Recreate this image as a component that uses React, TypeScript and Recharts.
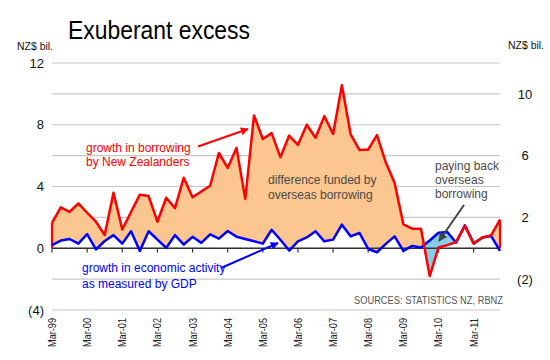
import React from 'react';
import {
  ComposedChart,
  Area,
  Line,
  XAxis,
  YAxis,
  CartesianGrid,
  ReferenceLine,
} from 'recharts';

// quarterly, Mar-99 .. Dec-11, NZ$ bil.
const borrowing = [
  1.65, 2.65, 2.35, 2.9, 2.3, 1.72, 0.86, 3.6, 1.22, 2.35, 3.47, 3.38,
  1.72, 3.27, 2.6, 4.57, 3.3, 3.68, 4.05, 6.17, 5.2, 6.5, 3.2, 8.6,
  7.08, 7.46, 5.9, 7.3, 6.7, 8.0, 7.16, 8.56, 7.4, 10.56, 7.37, 6.37,
  6.4, 7.33, 5.55, 4.24, 1.55, 1.27, 1.27, -1.8, 0.05, 0.2, 0.4, 1.45,
  0.3, 0.7, 0.85, 1.85,
];

const gdpGrowth = [
  0.2, 0.5, 0.6, 0.3, 0.92, -0.08, 0.47, 0.85, 0.3, 1.1, -0.18, 1.1,
  0.56, 0.02, 0.85, 0.24, 0.74, 0.35, 0.9, 0.62, 1.12, 0.75, 0.6, 0.45,
  0.3, 1.2, 0.55, -0.15, 0.45, 0.7, 1.1, 0.45, 0.56, 1.53, 0.77, 0.99,
  -0.05, -0.26, 0.28, 0.77, -0.17, 0.15, 0.05, 0.5, 1.0, 1.05, 0.37, 1.48,
  0.32, 0.69, 0.79, -0.17,
];

const yearLabels = [
  'Mar-99', 'Mar-00', 'Mar-01', 'Mar-02', 'Mar-03', 'Mar-04', 'Mar-05',
  'Mar-06', 'Mar-07', 'Mar-08', 'Mar-09', 'Mar-10', 'Mar-11',
];

const gridValues = [-4, -2, 0, 2, 4, 6, 8, 10, 12];
const leftLabels = [-4, 0, 4, 8, 12];
const rightLabels = [-2, 2, 6, 10];

const FONT = 'Arial, "Liberation Sans", sans-serif';
const ORANGE = '#fbc68f';
const LIGHT_BLUE = '#86cdec';

const fmt = (v: number) => (v < 0 ? `(${-v})` : `${v}`);

const rows = borrowing.map((red, i) => ({ x: i, red, blue: gdpGrowth[i] }));

// band between the two lines, split where they cross
const fillRows: { x: number; over: number[]; under: number[] }[] = [];
rows.forEach((r, i) => {
  const top = Math.max(r.red, r.blue);
  fillRows.push({ x: r.x, over: [r.blue, top], under: [r.red, top] });
  const n = rows[i + 1];
  if (!n) return;
  const d0 = r.red - r.blue;
  const d1 = n.red - n.blue;
  if (d0 * d1 < 0) {
    const t = d0 / (d0 - d1);
    const v = r.red + t * (n.red - r.red);
    fillRows.push({ x: r.x + t, over: [v, v], under: [v, v] });
  }
});

const lastIdx = rows.length - 1;

const XTick = (props: any) => {
  const { x, y, payload } = props;
  const label = yearLabels[Math.round(payload.value / 4)];
  return (
    <text
      x={x}
      y={y}
      transform={`rotate(-90, ${x}, ${y})`}
      textAnchor="end"
      dy="0.36em"
      fontSize={11}
      fill="#222"
      fontFamily={FONT}
      textLength={29}
      lengthAdjust="spacingAndGlyphs"
    >
      {label}
    </text>
  );
};

const RightTick = (props: any) => {
  const { x, y, payload } = props;
  return (
    <text x={x + 17} y={y} dy="0.36em" textAnchor="middle" fontSize={13} fill="#111" fontFamily={FONT}>
      {fmt(payload.value)}
    </text>
  );
};

export default function App() {
  return (
    <div
      style={{
        position: 'absolute',
        left: 0,
        top: 0,
        width: 550,
        height: 360,
        background: '#fff',
        fontFamily: FONT,
      }}
    >
      <ComposedChart
        width={550}
        height={360}
        data={fillRows}
        margin={{ top: 63, right: 10, bottom: 0, left: 8 }}
      >
        <CartesianGrid vertical={false} stroke="#c8c8c8" strokeWidth={1.2} />
        <XAxis
          type="number"
          dataKey="x"
          domain={[0, lastIdx]}
          ticks={yearLabels.map((_, k) => k * 4)}
          tick={<XTick />}
          axisLine={false}
          tickLine={false}
          height={50}
          interval={0}
        />
        <YAxis
          type="number"
          domain={[-4, 12]}
          allowDataOverflow
          ticks={gridValues}
          tickFormatter={(v: number) => (leftLabels.includes(v) ? fmt(v) : '')}
          axisLine={false}
          tickLine={false}
          width={44}
          interval={0}
          tick={{ fontSize: 13, fill: '#111', fontFamily: FONT }}
        />
        <YAxis
          yAxisId="right"
          type="number"
          orientation="right"
          domain={[-4, 12]}
          allowDataOverflow
          ticks={rightLabels}
          axisLine={false}
          tickLine={false}
          width={40}
          interval={0}
          tick={<RightTick />}
        />
        <Area
          type="linear"
          dataKey="over"
          fill={ORANGE}
          fillOpacity={1}
          stroke="none"
          isAnimationActive={false}
        />
        <Area
          yAxisId="right"
          type="linear"
          dataKey="under"
          fill={LIGHT_BLUE}
          fillOpacity={1}
          stroke="none"
          isAnimationActive={false}
        />
        <ReferenceLine y={0} stroke="#333" strokeWidth={1.3} />
        {yearLabels.map((_, k) => (
          <ReferenceLine
            key={k}
            segment={[{ x: k * 4, y: 0 }, { x: k * 4, y: -0.28 }]}
            stroke="#333"
            strokeWidth={1.2}
          />
        ))}
        <ReferenceLine
          segment={[{ x: 0, y: 0 }, { x: 0, y: borrowing[0] }]}
          stroke="#ff0000"
          strokeWidth={2.2}
        />
        <ReferenceLine
          segment={[{ x: lastIdx, y: 0 }, { x: lastIdx, y: borrowing[lastIdx] }]}
          stroke="#ff0000"
          strokeWidth={2.2}
        />
        <Line
          data={rows}
          type="linear"
          dataKey="blue"
          stroke="#0000ff"
          strokeWidth={2.5}
          dot={false}
          strokeLinejoin="round"
          isAnimationActive={false}
        />
        <Line
          data={rows}
          type="linear"
          dataKey="red"
          stroke="#ff0000"
          strokeWidth={2.5}
          dot={false}
          strokeLinejoin="round"
          isAnimationActive={false}
        />
      </ComposedChart>

      <svg
        width={550}
        height={360}
        style={{ position: 'absolute', left: 0, top: 0, pointerEvents: 'none' }}
        fontFamily={FONT}
      >
        <defs>
          <marker id="headRed" viewBox="0 0 10 10" refX="9" refY="5" markerWidth="4" markerHeight="4" orient="auto">
            <path d="M0,0 L10,5 L0,10 z" fill="#ff0000" />
          </marker>
          <marker id="headBlue" viewBox="0 0 10 10" refX="9" refY="5" markerWidth="4" markerHeight="4" orient="auto">
            <path d="M0,0 L10,5 L0,10 z" fill="#0000ff" />
          </marker>
          <marker id="headGray" viewBox="0 0 10 10" refX="9" refY="5" markerWidth="4.5" markerHeight="4.5" orient="auto">
            <path d="M0,0 L10,5 L0,10 z" fill="#444" />
          </marker>
        </defs>

        <text x={68} y={38.5} fontSize={25} fill="#000" textLength={182} lengthAdjust="spacingAndGlyphs">
          Exuberant excess
        </text>
        <text x={17} y={50} fontSize={10.5} fill="#111" textLength={36} lengthAdjust="spacingAndGlyphs">
          NZ$ bil.
        </text>
        <text x={508} y={49} fontSize={10.5} fill="#111" textLength={36} lengthAdjust="spacingAndGlyphs">
          NZ$ bil.
        </text>

        <text fontSize={12} fill="#ff0000">
          <tspan x={86} y={151.5}>growth in borrowing</tspan>
          <tspan x={86} y={165.5}>by New Zealanders</tspan>
        </text>
        <line x1={198} y1={146.5} x2={248} y2={129} stroke="#ff0000" strokeWidth={2} markerEnd="url(#headRed)" />

        <text fontSize={12} fill="#4a4a4a">
          <tspan x={268} y={184}>difference funded by</tspan>
          <tspan x={268} y={198.5}>overseas borrowing</tspan>
        </text>

        <text fontSize={12} fill="#4a4a4a">
          <tspan x={435} y={170}>paying back</tspan>
          <tspan x={435} y={184}>overseas</tspan>
          <tspan x={435} y={198}>borrowing</tspan>
        </text>
        <line x1={464} y1={205} x2={439} y2={241} stroke="#444" strokeWidth={2} markerEnd="url(#headGray)" />

        <text fontSize={12} fill="#0000ff">
          <tspan x={82} y={272}>growth in economic activity</tspan>
          <tspan x={82} y={288}>as measured by GDP</tspan>
        </text>
        <line x1={221} y1={268} x2={278} y2={243} stroke="#0000ff" strokeWidth={2} markerEnd="url(#headBlue)" />

        <text x={503} y={304} fontSize={10} fill="#555" textAnchor="end" textLength={149} lengthAdjust="spacingAndGlyphs">
          SOURCES: STATISTICS NZ, RBNZ
        </text>
      </svg>
    </div>
  );
}
